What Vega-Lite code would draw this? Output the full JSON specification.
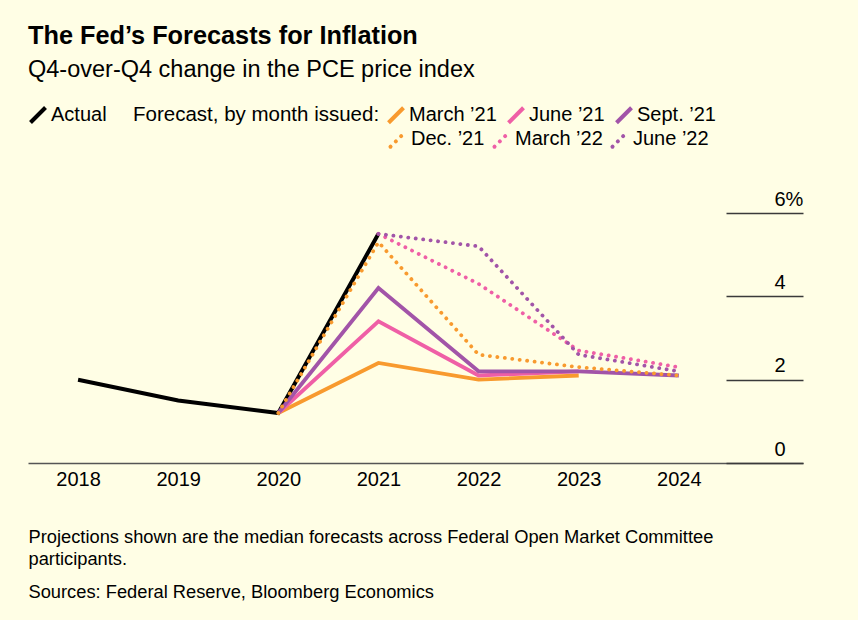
{
  "$schema": "https://vega.github.io/schema/vega-lite/v6.json",
  "width": 775,
  "height": 250,
  "autosize": {"type": "none"},
  "padding": {"left": 28, "top": 213, "right": 55, "bottom": 157},
  "background": "#fffee5",
  "title": {
    "text": "The Fed’s Forecasts for Inflation",
    "subtitle": "Q4-over-Q4 change in the PCE price index",
    "anchor": "start",
    "frame": "group",
    "font": "Liberation Sans",
    "fontSize": 25.3,
    "fontWeight": "bold",
    "color": "#000",
    "subtitleFont": "Liberation Sans",
    "subtitleFontSize": 23.5,
    "subtitleColor": "#000",
    "subtitlePadding": 8.5,
    "offset": 24
  },
  "data": {
    "values": [
      {"series": "Actual", "kind": "actual", "year": 2018, "value": 2.0},
      {"series": "Actual", "kind": "actual", "year": 2019, "value": 1.5},
      {"series": "Actual", "kind": "actual", "year": 2020, "value": 1.2},
      {"series": "Actual", "kind": "actual", "year": 2021, "value": 5.5},
      {"series": "March ’21", "kind": "2021", "year": 2020, "value": 1.2},
      {"series": "March ’21", "kind": "2021", "year": 2021, "value": 2.4},
      {"series": "March ’21", "kind": "2021", "year": 2022, "value": 2.0},
      {"series": "March ’21", "kind": "2021", "year": 2023, "value": 2.1},
      {"series": "June ’21", "kind": "2021", "year": 2020, "value": 1.2},
      {"series": "June ’21", "kind": "2021", "year": 2021, "value": 3.4},
      {"series": "June ’21", "kind": "2021", "year": 2022, "value": 2.1},
      {"series": "June ’21", "kind": "2021", "year": 2023, "value": 2.2},
      {"series": "Sept. ’21", "kind": "2021", "year": 2020, "value": 1.2},
      {"series": "Sept. ’21", "kind": "2021", "year": 2021, "value": 4.2},
      {"series": "Sept. ’21", "kind": "2021", "year": 2022, "value": 2.2},
      {"series": "Sept. ’21", "kind": "2021", "year": 2023, "value": 2.2},
      {"series": "Sept. ’21", "kind": "2021", "year": 2024, "value": 2.1},
      {"series": "Dec. ’21", "kind": "dotted", "year": 2020, "value": 1.2},
      {"series": "Dec. ’21", "kind": "dotted", "year": 2021, "value": 5.3},
      {"series": "Dec. ’21", "kind": "dotted", "year": 2022, "value": 2.6},
      {"series": "Dec. ’21", "kind": "dotted", "year": 2023, "value": 2.3},
      {"series": "Dec. ’21", "kind": "dotted", "year": 2024, "value": 2.1},
      {"series": "March ’22", "kind": "dotted", "year": 2021, "value": 5.5},
      {"series": "March ’22", "kind": "dotted", "year": 2022, "value": 4.3},
      {"series": "March ’22", "kind": "dotted", "year": 2023, "value": 2.7},
      {"series": "March ’22", "kind": "dotted", "year": 2024, "value": 2.3},
      {"series": "June ’22", "kind": "dotted", "year": 2021, "value": 5.5},
      {"series": "June ’22", "kind": "dotted", "year": 2022, "value": 5.2},
      {"series": "June ’22", "kind": "dotted", "year": 2023, "value": 2.6},
      {"series": "June ’22", "kind": "dotted", "year": 2024, "value": 2.2}
    ]
  },
  "encoding": {
    "x": {
      "field": "year",
      "type": "quantitative",
      "scale": {"domain": [2017.5, 2025.24], "nice": false, "zero": false},
      "axis": {
        "values": [2018, 2019, 2020, 2021, 2022, 2023, 2024],
        "format": "d",
        "ticks": false,
        "grid": false,
        "domainColor": "#555",
        "domainWidth": 1.5,
        "labelFont": "Liberation Sans",
        "labelFontSize": 20,
        "labelColor": "#000",
        "labelPadding": 6,
        "labelFlush": false,
        "labelOverlap": false,
        "title": [
          "Projections shown are the median forecasts across Federal Open Market Committee",
          "\u200b",
          "participants.",
          "\u200b\u200b",
          "\u200b\u200b\u200b",
          "Sources: Federal Reserve, Bloomberg Economics"
        ],
        "titleFont": "Liberation Sans",
        "titleFontSize": 18.3,
        "titleFontWeight": "normal",
        "titleColor": "#000",
        "titleAnchor": "start",
        "titleAlign": "left",
        "titlePadding": 39,
        "titleLineHeight": 11.1
      }
    },
    "y": {
      "field": "value",
      "type": "quantitative",
      "scale": {"domain": [0, 6], "nice": false},
      "axis": {
        "orient": "right",
        "values": [0, 2, 4, 6],
        "grid": false,
        "domain": false,
        "ticks": true,
        "tickSize": -77,
        "tickColor": "#3a3a3a",
        "tickWidth": 1.3,
        "labelAlign": "left",
        "labelBaseline": "alphabetic",
        "labelOffset": -8,
        "labelPadding": 48,
        "labelExpr": "datum.value == 6 ? '6%' : datum.label",
        "labelFont": "Liberation Sans",
        "labelFontSize": 20,
        "labelColor": "#000",
        "title": null
      }
    }
  },
  "layer": [
    {
      "transform": [{"filter": "datum.kind === 'actual'"}],
      "mark": {"type": "line", "stroke": "#000000"},
      "encoding": {
        "strokeWidth": {
          "field": "series",
          "type": "ordinal",
          "scale": {"domain": ["Actual"], "range": [4, 4]},
          "legend": {
            "title": null,
            "orient": "none",
            "legendX": 0,
            "legendY": -108,
            "symbolType": "M-1,1L1,-1",
            "symbolSize": 225,
            "symbolStrokeColor": "#000000",
            "symbolStrokeWidth": 4,
            "labelOffset": 3,
            "labelFont": "Liberation Sans",
            "labelFontSize": 20,
            "labelColor": "#000"
          }
        }
      }
    },
    {
      "transform": [{"filter": "datum.kind === '2021'"}],
      "mark": {"type": "line", "strokeWidth": 3.8},
      "encoding": {
        "stroke": {
          "field": "series",
          "type": "nominal",
          "scale": {
            "domain": ["March ’21", "June ’21", "Sept. ’21"],
            "range": ["#f89a2e", "#ef5fa6", "#a254a8"]
          },
          "legend": {
            "title": "Forecast, by month issued:",
            "orient": "none",
            "legendX": 105,
            "legendY": -108,
            "titleOrient": "left",
            "titleAnchor": "start",
            "titleBaseline": "top",
            "titleLimit": 500,
            "titleFont": "Liberation Sans",
            "titleFontSize": 20.5,
            "titleFontWeight": "normal",
            "titleColor": "#000",
            "titlePadding": 6,
            "direction": "horizontal",
            "columnPadding": 3,
            "symbolType": "M-1,1L1,-1",
            "symbolSize": 225,
            "symbolStrokeWidth": 4,
            "labelOffset": 3,
            "labelFont": "Liberation Sans",
            "labelFontSize": 20,
            "labelColor": "#000"
          }
        }
      }
    },
    {
      "transform": [{"filter": "datum.kind === 'dotted'"}],
      "mark": {"type": "line", "strokeWidth": 3.8, "strokeCap": "round"},
      "encoding": {
        "color": {
          "field": "series",
          "type": "nominal",
          "scale": {
            "domain": ["Dec. ’21", "March ’22", "June ’22"],
            "range": ["#f89a2e", "#ef5fa6", "#a254a8"]
          },
          "legend": {
            "title": null,
            "orient": "none",
            "legendX": 360,
            "legendY": -84,
            "direction": "horizontal",
            "columnPadding": 1,
            "symbolType": "M-1,1L1,-1",
            "symbolSize": 225,
            "symbolStrokeWidth": 4,
            "labelOffset": 3,
            "labelFont": "Liberation Sans",
            "labelFontSize": 20,
            "labelColor": "#000",
            "encode": {"symbols": {"update": {"strokeCap": {"value": "round"}}}}
          }
        },
        "strokeDash": {
          "field": "series",
          "type": "nominal",
          "scale": {
            "domain": ["Dec. ’21", "March ’22", "June ’22"],
            "range": [[0.1, 7.4], [0.1, 7.4], [0.1, 7.4]]
          },
          "legend": {
            "title": null,
            "orient": "none",
            "legendX": 360,
            "legendY": -84,
            "direction": "horizontal",
            "columnPadding": 1,
            "symbolType": "M-1,1L1,-1",
            "symbolSize": 225,
            "symbolStrokeWidth": 4,
            "labelOffset": 3,
            "labelFont": "Liberation Sans",
            "labelFontSize": 20,
            "labelColor": "#000",
            "encode": {"symbols": {"update": {"strokeCap": {"value": "round"}}}}
          }
        }
      }
    }
  ],
  "config": {
    "font": "Liberation Sans",
    "view": {"stroke": null}
  }
}
